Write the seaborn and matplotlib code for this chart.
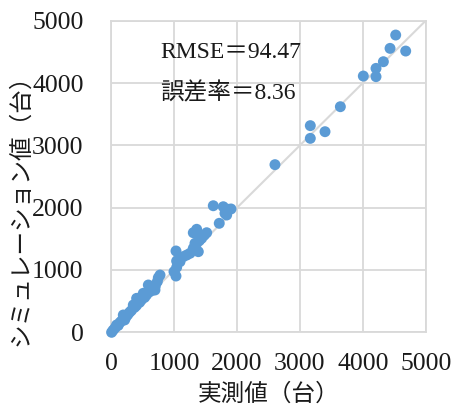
import numpy as np
import pandas as pd
import matplotlib
matplotlib.use('Agg')
import matplotlib.pyplot as plt
import seaborn as sns

# measured vs simulated counts
measured = [5, 30, 60, 85, 110, 140, 170, 191, 212, 230, 260, 290, 320, 350,
            370, 400, 403, 429, 450, 480, 509, 530, 560, 589, 610, 640, 668,
            695, 700, 732, 748, 775,
            997, 1029, 1029, 1040, 1039, 1093, 1145, 1200, 1252, 1304, 1331,
            1384, 1358, 1410, 1437, 1304, 1358, 1517, 1400, 1460, 1480,
            1622, 1717, 1781, 1808, 1835, 1861, 1904,
            2603, 3165, 3165, 3399, 3643, 4008, 4210, 4210, 4327, 4433,
            4523, 4682]
simulated = [0, 35, 70, 118, 110, 160, 190, 278, 198, 240, 280, 320, 350, 438,
             400, 430, 545, 545, 480, 520, 626, 560, 600, 759, 650, 680, 679,
             679, 740, 813, 877, 919,
             973, 903, 1305, 1043, 1144, 1133, 1214, 1240, 1268, 1348, 1428,
             1294, 1653, 1508, 1508, 1598, 1428, 1598, 1470, 1550, 1560,
             2031, 1749, 2015, 1909, 1882, 1974, 1979,
             2690, 3316, 3112, 3219, 3620, 4112, 4235, 4102, 4342, 4556,
             4770, 4513]

ticks = [0, 1000, 2000, 3000, 4000, 5000]
rmse_text = 'RMSE＝94.47'
error_text = '誤差率＝8.36'

df = pd.DataFrame({'measured': measured, 'simulated': simulated})

sns.set_style('white')
plt.rcParams['font.family'] = ['Liberation Serif', 'Noto Sans CJK JP']

fig = plt.figure(figsize=(4.52, 4.09), dpi=100)
ax = fig.add_axes([0.2462, 0.1875, 0.6956, 0.7619])

ax.set_xlim(0, 5000)
ax.set_ylim(0, 5000)
ax.set_xticks(ticks)
ax.set_yticks(ticks)
ax.grid(True, color='#d9d9d9', linewidth=1.3)
ax.set_axisbelow(True)
for sp in ax.spines.values():
    sp.set_color('#d9d9d9')
    sp.set_linewidth(1.3)

ax.axline((0, 0), slope=1, color='#d9d9d9', linewidth=1.5, zorder=1)

sns.scatterplot(x='measured', y='simulated', data=df, ax=ax, color='#5B9BD5',
                s=62, edgecolor='none', zorder=3, clip_on=False)

ax.tick_params(axis='both', length=0, labelsize=18.5, colors='#1a1a1a')
ax.tick_params(axis='x', pad=15)
ax.tick_params(axis='y', pad=20)

ax.set_xlabel('実測値（台）', fontsize=17, color='#1a1a1a')
ax.set_ylabel('シミュレーション値（台）', fontsize=17, color='#1a1a1a')
ax.xaxis.set_label_coords(0.5, -0.165)
ax.yaxis.set_label_coords(-0.25, 0.41)

ax.text(775, 4482, rmse_text, fontsize=17, va='center', ha='left', color='#1a1a1a')
ax.text(775, 3840, error_text, fontsize=17, va='center', ha='left', color='#1a1a1a')

fig.savefig('out.png', dpi=100)
